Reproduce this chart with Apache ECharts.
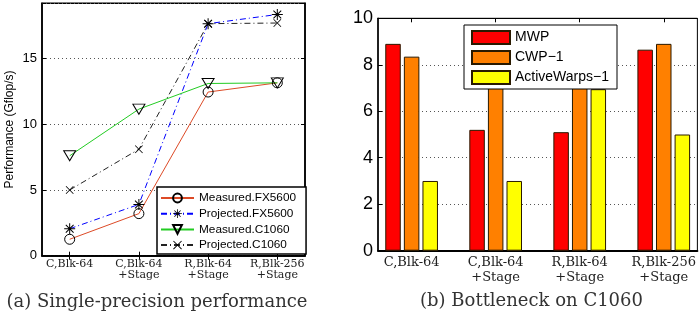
<!DOCTYPE html>
<html><head><meta charset="utf-8">
<script src="https://cdn.jsdelivr.net/npm/echarts@6/dist/echarts.min.js"></script>
<style>html,body{margin:0;padding:0;background:#fff}#c{width:699px;height:320px}</style>
</head><body><div id="c"></div>
<script>
// ---- data ----
const categories = ['C,Blk-64', 'C,Blk-64\n+Stage', 'R,Blk-64\n+Stage', 'R,Blk-256\n+Stage'];
const categoryPositions = [1, 2, 3, 4];
const measuredFX5600 = [1.25, 3.2, 12.45, 13.15];
const projectedFX5600 = [2.05, 3.9, 17.65, 18.35];
const measuredC1060 = [7.6, 11.15, 13.1, 13.15];
const projectedC1060 = [5.0, 8.1, 17.65, 17.7];
const mwp = [8.9, 5.2, 5.1, 8.65];
const cwp1 = [8.35, 7.1, 7.0, 8.9];
const activeWarps1 = [3, 3, 6.95, 5];
const lineNames = ['Measured.FX5600', 'Projected.FX5600', 'Measured.C1060', 'Projected.C1060'];
const barNames = ['MWP', 'CWP\u22121', 'ActiveWarps\u22121'];
const captionA = '(a) Single-precision performance';
const captionB = '(b) Bottleneck on C1060';

const toXY = arr => arr.map((v, i) => [categoryPositions[i], v]);
const catLabel = v => categories[Math.round(v) - 1] || '';

const asteriskPath = 'path://M9.1,0L10.9,0L10.9,20L9.1,20Z M0,9.1L20,9.1L20,10.9L0,10.9Z M3.57,2.29L17.71,16.43L16.43,17.71L2.29,3.57Z M16.43,2.29L17.71,3.57L3.57,17.71L2.29,16.43Z';
const crossPath = 'path://M1.71,0.29L19.71,18.29L18.29,19.71L0.29,1.71Z M18.29,0.29L19.71,1.71L1.71,19.71L0.29,18.29Z';
const triDownPath = 'path://M0,0L20,0L10,17Z';

const sans = 'Liberation Sans';
const serif = 'DejaVu Serif';
const hollow = { color: 'rgba(0,0,0,0)', borderColor: '#000', borderWidth: 1 };

const chart = echarts.init(document.getElementById('c'), null, { renderer: 'canvas' });
chart.setOption({
  animation: false,
  backgroundColor: '#fff',
  grid: [
    { left: 42, top: 3.3, width: 263, height: 252.4, show: true, borderColor: '#000', borderWidth: 1.5, backgroundColor: 'transparent' },
    { left: 378, top: 18.3, width: 323, height: 232.4, show: true, borderColor: '#000', borderWidth: 1, backgroundColor: 'transparent' }
  ],
  xAxis: [
    { type: 'value', gridIndex: 0, min: 0.6, max: 4.4,
      axisLine: { show: true, lineStyle: { color: '#000', width: 1.5 } },
      axisTick: { show: true, inside: true, length: 4, customValues: categoryPositions, lineStyle: { color: '#000' } },
      axisLabel: { customValues: categoryPositions, formatter: catLabel, fontFamily: serif, fontSize: 11, lineHeight: 10.5, color: '#222', margin: 3.5 },
      splitLine: { show: false } },
    { type: 'value', gridIndex: 0, position: 'top', min: 0.6, max: 4.4,
      axisLine: { show: true, lineStyle: { color: '#000', width: 1.5 } },
      axisTick: { show: true, inside: true, length: 4, customValues: categoryPositions, lineStyle: { color: '#000' } },
      axisLabel: { show: false }, splitLine: { show: false } },
    { type: 'value', gridIndex: 1, min: 0.6, max: 4.4,
      axisLine: { show: true, lineStyle: { color: '#000', width: 2 } },
      axisTick: { show: true, inside: true, length: 4, customValues: categoryPositions, lineStyle: { color: '#000' } },
      axisLabel: { customValues: categoryPositions, formatter: catLabel, fontFamily: serif, fontSize: 13, lineHeight: 15.5, color: '#222', margin: 4 },
      splitLine: { show: false } },
    { type: 'value', gridIndex: 1, position: 'top', min: 0.6, max: 4.4,
      axisLine: { show: true, lineStyle: { color: '#000', width: 1 } },
      axisTick: { show: true, inside: true, length: 4, customValues: categoryPositions, lineStyle: { color: '#000' } },
      axisLabel: { show: false }, splitLine: { show: false } }
  ],
  yAxis: [
    { type: 'value', gridIndex: 0, min: 0, max: 19.2, interval: 5,
      name: 'Performance (Gflop/s)', nameLocation: 'middle', nameGap: 26, nameRotate: 90,
      nameTextStyle: { fontFamily: sans, fontSize: 12, color: '#000' },
      axisLine: { show: true, lineStyle: { color: '#000', width: 1.5 } },
      axisTick: { show: true, inside: true, length: 4, lineStyle: { color: '#000' } },
      axisLabel: { fontFamily: sans, fontSize: 13, color: '#000', margin: 5, showMaxLabel: false },
      splitLine: { show: true, lineStyle: { color: '#555', type: [1, 3], width: 1 } } },
    { type: 'value', gridIndex: 0, position: 'right', min: 0, max: 19.2, interval: 5,
      axisLine: { show: true, lineStyle: { color: '#000', width: 1.5 } },
      axisTick: { show: true, inside: true, length: 4, lineStyle: { color: '#000' } },
      axisLabel: { show: false }, splitLine: { show: false } },
    { type: 'value', gridIndex: 1, min: 0, max: 10, interval: 2,
      axisLine: { show: true, lineStyle: { color: '#000', width: 1.5 } },
      axisTick: { show: true, inside: true, length: 4, lineStyle: { color: '#000' } },
      axisLabel: { fontFamily: sans, fontSize: 18, color: '#000', margin: 5 },
      splitLine: { show: true, lineStyle: { color: '#555', type: [1, 3], width: 1 } } }
  ],
  legend: [
    { data: lineNames, orient: 'vertical', left: 157, top: 187, itemWidth: 33, itemHeight: 11, itemGap: 3.7,
      padding: [5, 10, 3, 3], borderColor: '#000', borderWidth: 1.5, backgroundColor: '#fff', borderRadius: 0,
      textStyle: { fontFamily: sans, fontSize: 11.8, color: '#000' } },
    { data: barNames.map(n => ({ name: n, icon: 'rect' })), orient: 'vertical', left: 464, top: 25, itemWidth: 38, itemHeight: 13, itemGap: 5,
      padding: [5, 8, 4, 7], borderColor: '#000', borderWidth: 1, backgroundColor: '#fff', borderRadius: 0,
      textStyle: { fontFamily: sans, fontSize: 14, color: '#000' } }
  ],
  graphic: [
    { type: 'text', x: 157, y: 302.5, style: { text: captionA, font: '18px "DejaVu Serif"', fill: '#333', align: 'center', verticalAlign: 'middle' } },
    { type: 'text', x: 531.5, y: 301.7, style: { text: captionB, font: '18px "DejaVu Serif"', fill: '#333', align: 'center', verticalAlign: 'middle' } }
  ],
  series: [
    { name: lineNames[0], type: 'line', xAxisIndex: 0, yAxisIndex: 0, data: toXY(measuredFX5600),
      symbol: 'circle', symbolSize: 10, lineStyle: { color: '#dd4a26', width: 1 }, itemStyle: hollow, z: 3 },
    { name: lineNames[1], type: 'line', xAxisIndex: 0, yAxisIndex: 0, data: toXY(projectedFX5600),
      symbol: asteriskPath, symbolSize: 11, lineStyle: { color: '#0000ff', width: 1, type: [6, 3, 1, 3] }, itemStyle: { color: '#000' }, z: 3 },
    { name: lineNames[2], type: 'line', xAxisIndex: 0, yAxisIndex: 0, data: toXY(measuredC1060),
      symbol: triDownPath, symbolSize: [12, 10], lineStyle: { color: '#22cc22', width: 1 }, itemStyle: hollow, z: 3 },
    { name: lineNames[3], type: 'line', xAxisIndex: 0, yAxisIndex: 0, data: toXY(projectedC1060),
      symbol: crossPath, symbolSize: 8, lineStyle: { color: '#222', width: 1, type: [6, 3, 1, 3] }, itemStyle: { color: '#000' }, z: 3 },
    { name: barNames[0], type: 'bar', xAxisIndex: 2, yAxisIndex: 2, data: toXY(mwp), barWidth: 15.5, barGap: '20%',
      itemStyle: { color: '#ff0000', borderColor: '#2a1a00', borderWidth: 1 } },
    { name: barNames[1], type: 'bar', xAxisIndex: 2, yAxisIndex: 2, data: toXY(cwp1), barWidth: 15.5, barGap: '20%',
      itemStyle: { color: '#ff8000', borderColor: '#2a1a00', borderWidth: 1 } },
    { name: barNames[2], type: 'bar', xAxisIndex: 2, yAxisIndex: 2, data: toXY(activeWarps1), barWidth: 15.5, barGap: '20%',
      itemStyle: { color: '#ffff00', borderColor: '#2a1a00', borderWidth: 1 } }
  ]
});
</script>
</body></html>
